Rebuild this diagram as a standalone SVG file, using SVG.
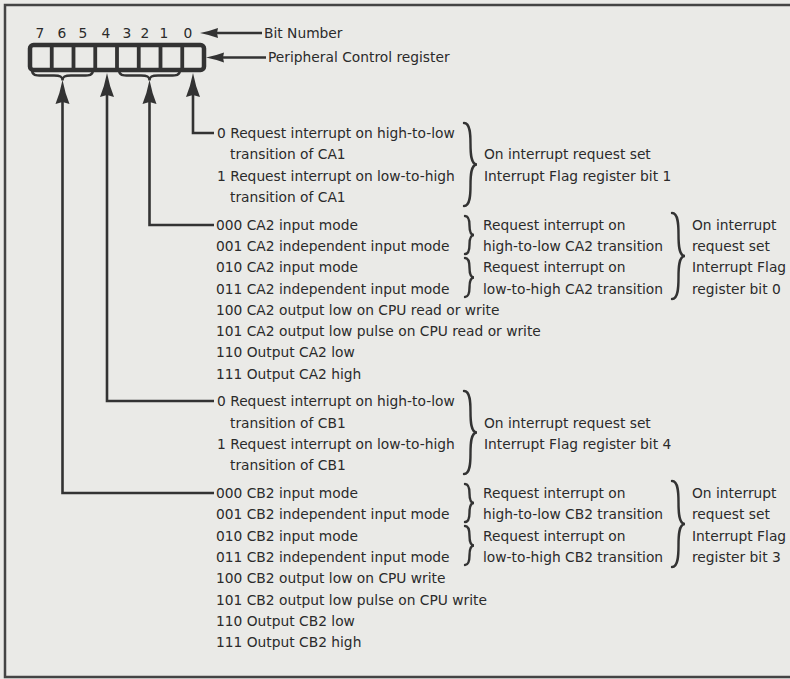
<svg xmlns="http://www.w3.org/2000/svg" width="790" height="679" viewBox="0 0 790 679">
<style>
.t{font-family:"DejaVu Sans","Liberation Sans",sans-serif;font-size:13.8px;fill:#2b2b2b}
.n{text-anchor:middle}
.ln{stroke:#333;stroke-width:2.6;fill:none}
.br{stroke:#333;stroke-width:2.4;fill:none;stroke-linecap:round}
.reg{stroke:#333;fill:none}
</style>
<defs>
<marker id="ah" markerUnits="userSpaceOnUse" orient="auto" markerWidth="40" markerHeight="20" refX="0" refY="0" overflow="visible">
<path d="M10,0 Q-3,-2.5 -14,-7 L-12,0 L-14,7 Q-3,2.5 10,0 Z" fill="#333"/>
</marker>
<marker id="ahs" markerUnits="userSpaceOnUse" orient="auto" markerWidth="30" markerHeight="16" refX="0" refY="0" overflow="visible">
<path d="M8,0 Q-2,-2 -10,-5 L-9,0 L-10,5 Q-2,2 8,0 Z" fill="#333"/>
</marker>
</defs>
<rect x="0" y="0" width="790" height="679" fill="#eaeae7"/>
<rect x="5" y="5" width="800" height="672" fill="none" stroke="#444" stroke-width="2.5"/>

<g id="register">
<rect class="reg" x="30" y="45" width="174" height="25" rx="3.5" stroke-width="4.5"/>
<path class="reg" stroke-width="3.8" d="M51.75,45V70M73.5,45V70M95.25,45V70M117,45V70M138.75,45V70M160.5,45V70M182.25,45V70"/>
<text class="t n" x="40" y="38">7</text>
<text class="t n" x="62" y="38">6</text>
<text class="t n" x="83" y="38">5</text>
<text class="t n" x="106" y="38">4</text>
<text class="t n" x="127" y="38">3</text>
<text class="t n" x="145" y="38">2</text>
<text class="t n" x="164" y="38">1</text>
<text class="t n" x="188" y="38">0</text>
<path class="br" d="M32,70 C32,75.5 36,75.5 42,75.5 L54,75.5 C60,75.5 62.5,76.5 62.5,80.5 C62.5,76.5 65,75.5 71,75.5 L83,75.5 C89,75.5 93,75.5 93,70"/>
<path class="br" d="M119,70 C119,75.5 123,75.5 129,75.5 L141,75.5 C147,75.5 149.5,76.5 149.5,80.5 C149.5,76.5 152,75.5 158,75.5 L170,75.5 C176,75.5 180,75.5 180,70"/>
</g>

<g id="labels">
<text class="t" x="264" y="38">Bit Number</text>
<text class="t" x="268" y="62">Peripheral Control register</text>
</g>

<g id="connectors">
<path class="ln" d="M262,33 H208" marker-end="url(#ahs)"/>
<path class="ln" d="M266,57.5 H214" marker-end="url(#ahs)"/>
<path class="ln" d="M214,133 H193 V83" marker-end="url(#ah)"/>
<path class="ln" d="M214,225 H149.5 V90" marker-end="url(#ah)"/>
<path class="ln" d="M214,401 H107 V83" marker-end="url(#ah)"/>
<path class="ln" d="M214,493 H62.5 V90" marker-end="url(#ah)"/>
</g>

<g id="ca1">
<text class="t" x="217" y="138">0 Request interrupt on high-to-low</text>
<text class="t" x="230" y="159.3">transition of CA1</text>
<text class="t" x="217" y="180.6">1 Request interrupt on low-to-high</text>
<text class="t" x="230" y="201.9">transition of CA1</text>
<path class="br" d="M464,123 C470.5,123 470.5,135.5 470.5,143.8 S470.5,164.5 477,164.5 C470.5,164.5 470.5,177 470.5,185.3 S470.5,206 464,206"/>
<text class="t" x="484" y="159.3">On interrupt request set</text>
<text class="t" x="484" y="180.6">Interrupt Flag register bit 1</text>
</g>

<g id="ca2">
<text class="t" x="216" y="229.6">000 CA2 input mode</text>
<text class="t" x="216" y="250.9">001 CA2 independent input mode</text>
<text class="t" x="216" y="272.2">010 CA2 input mode</text>
<text class="t" x="216" y="293.5">011 CA2 independent input mode</text>
<text class="t" x="216" y="314.8">100 CA2 output low on CPU read or write</text>
<text class="t" x="216" y="336.1">101 CA2 output low pulse on CPU read or write</text>
<text class="t" x="216" y="357.4">110 Output CA2 low</text>
<text class="t" x="216" y="378.7">111 Output CA2 high</text>
<path class="br" d="M465,216 C469.5,216 469.5,221.7 469.5,225.5 S469.5,235 474,235 C469.5,235 469.5,240.7 469.5,244.5 S469.5,254 465,254"/>
<path class="br" d="M465,258 C469.5,258 469.5,263.9 469.5,267.8 S469.5,277.5 474,277.5 C469.5,277.5 469.5,283.4 469.5,287.3 S469.5,297 465,297"/>
<text class="t" x="483" y="229.6">Request interrupt on</text>
<text class="t" x="483" y="250.9">high-to-low CA2 transition</text>
<text class="t" x="483" y="272.2">Request interrupt on</text>
<text class="t" x="483" y="293.5">low-to-high CA2 transition</text>
<path class="br" d="M672,213 C678.5,213 678.5,225.9 678.5,234.5 S678.5,256 685,256 C678.5,256 678.5,268.9 678.5,277.5 S678.5,299 672,299"/>
<text class="t" x="692" y="229.6">On interrupt</text>
<text class="t" x="692" y="250.9">request set</text>
<text class="t" x="692" y="272.2">Interrupt Flag</text>
<text class="t" x="692" y="293.5">register bit 0</text>
</g>

<g id="cb1">
<text class="t" x="217" y="406.4">0 Request interrupt on high-to-low</text>
<text class="t" x="230" y="427.7">transition of CB1</text>
<text class="t" x="217" y="449">1 Request interrupt on low-to-high</text>
<text class="t" x="230" y="470.3">transition of CB1</text>
<path class="br" d="M464,391 C470.5,391 470.5,403.5 470.5,411.8 S470.5,432.5 477,432.5 C470.5,432.5 470.5,445 470.5,453.3 S470.5,474 464,474"/>
<text class="t" x="484" y="427.7">On interrupt request set</text>
<text class="t" x="484" y="449">Interrupt Flag register bit 4</text>
</g>

<g id="cb2">
<text class="t" x="216" y="498">000 CB2 input mode</text>
<text class="t" x="216" y="519.3">001 CB2 independent input mode</text>
<text class="t" x="216" y="540.6">010 CB2 input mode</text>
<text class="t" x="216" y="561.9">011 CB2 independent input mode</text>
<text class="t" x="216" y="583.2">100 CB2 output low on CPU write</text>
<text class="t" x="216" y="604.5">101 CB2 output low pulse on CPU write</text>
<text class="t" x="216" y="625.8">110 Output CB2 low</text>
<text class="t" x="216" y="647.1">111 Output CB2 high</text>
<path class="br" d="M465,484 C469.5,484 469.5,489.7 469.5,493.5 S469.5,503 474,503 C469.5,503 469.5,508.7 469.5,512.5 S469.5,522 465,522"/>
<path class="br" d="M465,526 C469.5,526 469.5,531.9 469.5,535.8 S469.5,545.5 474,545.5 C469.5,545.5 469.5,551.4 469.5,555.3 S469.5,565 465,565"/>
<text class="t" x="483" y="498">Request interrupt on</text>
<text class="t" x="483" y="519.3">high-to-low CB2 transition</text>
<text class="t" x="483" y="540.6">Request interrupt on</text>
<text class="t" x="483" y="561.9">low-to-high CB2 transition</text>
<path class="br" d="M672,481 C678.5,481 678.5,493.9 678.5,502.5 S678.5,524 685,524 C678.5,524 678.5,536.9 678.5,545.5 S678.5,567 672,567"/>
<text class="t" x="692" y="498">On interrupt</text>
<text class="t" x="692" y="519.3">request set</text>
<text class="t" x="692" y="540.6">Interrupt Flag</text>
<text class="t" x="692" y="561.9">register bit 3</text>
</g>
</svg>
